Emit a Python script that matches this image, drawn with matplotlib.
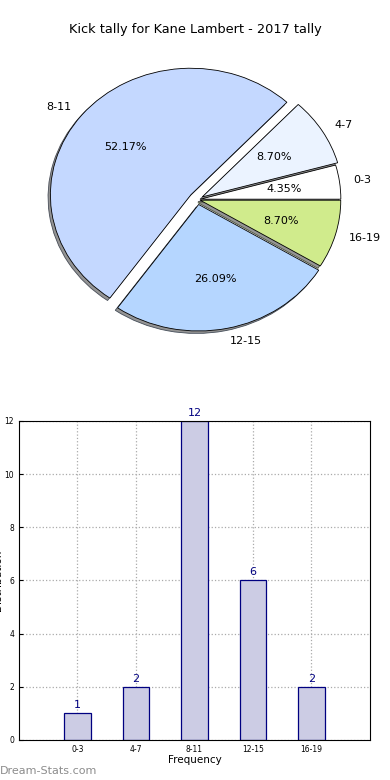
import matplotlib
matplotlib.use("Agg")
import matplotlib.pyplot as plt
from matplotlib.patches import Shadow

labels = ["0-3", "4-7", "8-11", "12-15", "16-19"]
counts = [1, 2, 12, 6, 2]
pie_colors = ["#ffffff", "#ebf3ff", "#c4d8ff", "#b5d6ff", "#d0eb8c"]
explode = [0.02, 0.04, 0.06, 0.04, 0.02]

fig = plt.figure(figsize=(3.9, 7.8), dpi=100)
fig.text(0.5, 1 - 30 / 780, "Kick tally for Kane Lambert - 2017 tally",
         ha="center", va="center", fontsize=9.3)

# pie (not forced round, like old matplotlib)
ax1 = fig.add_axes([0.0559, 0.5415, 0.901, 0.4054])
wedges, texts, autos = ax1.pie(counts, labels=labels, colors=pie_colors, explode=explode,
                               autopct="%.2f%%", startangle=0,
                               shadow=dict(ox=-0.012, oy=-0.014),
                               wedgeprops=dict(edgecolor="black", linewidth=0.6),
                               textprops=dict(fontsize=8))
for p in ax1.patches:
    if isinstance(p, Shadow):
        p.set_facecolor("#888888")
        p.set_alpha(0.9)
ax1.set_aspect("auto")
ax1.set_xlim(-1.25, 1.25)
ax1.set_ylim(-1.25, 1.25)

# bars
ax2 = fig.add_axes([0.0487, 0.0513, 0.9, 0.409])
x = list(range(len(labels)))
ax2.bar(x, counts, width=0.45, color="#ccccE4", edgecolor="navy", linewidth=0.9, zorder=2)
for xi, c in zip(x, counts):
    ax2.text(xi, c + 0.12, str(c), ha="center", va="bottom", color="navy", fontsize=8)
ax2.set_xlim(-1, 5)
ax2.set_ylim(0, 12)
ax2.set_xticks(x)
ax2.set_xticklabels(labels, fontsize=5.5)
ax2.set_yticks(range(0, 13, 2))
ax2.tick_params(axis="y", labelsize=5.5, direction="in", length=3)
ax2.tick_params(axis="x", direction="in", length=3)
ax2.grid(True, linestyle=":", color="#aaaaaa", linewidth=0.9, zorder=0)
ax2.set_axisbelow(True)
ax2.set_xlabel("Frequency", fontsize=7.5, labelpad=1)
ax2.set_ylabel("Distribution", fontsize=7.5, labelpad=1)

fig.text(0.0, 1 - 771 / 780, "Dream-Stats.com", fontsize=8, color="#8c8c8c",
         ha="left", va="center")

fig.savefig("out.png", dpi=100)
